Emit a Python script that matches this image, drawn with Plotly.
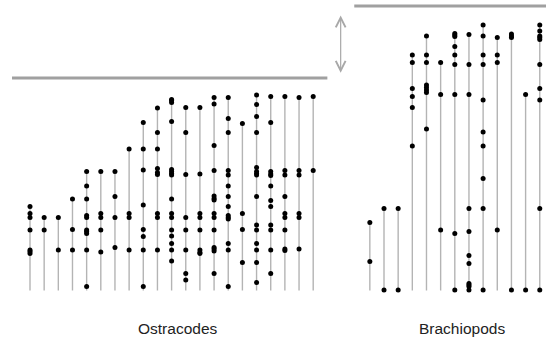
import plotly.graph_objects as go

# stratigraphic levels of occurrences (height above base, arbitrary units)
ostracodes = [
    [84, 77, 73, 60.5, 40.5, 39, 37],
    [73, 60.5],
    [73, 40.5],
    [91.5, 61, 40.5],
    [119, 104.5, 91.5, 75, 73, 60.5, 59, 57, 40.5, 4],
    [119, 77, 73, 60.5, 38.5],
    [119, 94, 73, 43],
    [141.5, 77, 73, 40.5],
    [168, 141.5, 120.5, 85.5, 61, 54, 40.5, 4],
    [182.5, 158, 141.5, 122, 118, 116, 77, 73, 40.5],
    [191, 190, 188, 169, 121, 119, 117, 115.5, 91.5, 77, 73, 60.5, 54.5, 47, 40.5, 29.5],
    [183, 158, 116, 73, 60.5, 40.5, 17, 10.5],
    [183, 116.5, 77, 73, 60.5, 40.5, 38, 37],
    [193, 186.5, 145, 120, 94.5, 92, 90.5, 77, 73, 60.5, 43, 41.5, 39.5, 17],
    [193, 172, 158, 120, 115.5, 104.5, 94, 84, 75, 73, 71.5, 47, 40.5, 4],
    [167, 77, 61, 28],
    [195.5, 186, 174, 158, 123, 119, 117, 115.5, 94, 65.5, 60.5, 47, 40.5, 28, 8],
    [194, 168, 119, 116.5, 115, 104.5, 90, 84, 65.5, 60.5, 40.5, 17],
    [194, 120, 115.5, 94, 77, 73, 60.5, 41.5, 40],
    [193, 120, 115.5, 77, 73, 41.5],
    [194, 120],
]
brachiopods = [
    [68, 29],
    [82, 0.5],
    [82, 0.5],
    [235.5, 228, 202, 194, 183, 144.5],
    [254.5, 235.5, 228, 205.5, 203, 200.5, 198, 161.5],
    [228, 196, 60.5],
    [257, 255.5, 254, 244, 235.5, 226, 196, 57, 0.5],
    [256, 226, 196, 82, 59, 35, 27, 7, 5.5, 4, 0.5],
    [265.5, 254.5, 235.5, 226, 190.5, 158.5, 144.5, 112, 82, 0.5],
    [253, 235.5, 228, 60.5],
    [256.5, 254.5, 253, 0.5],
    [196, 0.5],
    [265.5, 259.5, 254.5, 253, 251, 226, 202, 190.5, 82, 0.5],
]
group_labels = ["Ostracodes", "Brachiopods"]
ostracode_boundary = 212.5
brachiopod_boundary = 284.5

BRACH_OFFSET = 24  # x position of first brachiopod section

fig = go.Figure()

def add_group(sections, x0):
    lx, ly, px, py = [], [], [], []
    for i, levels in enumerate(sections):
        x = x0 + i
        lx += [x, x, None]
        ly += [0, max(levels), None]
        px += [x] * len(levels)
        py += levels
    fig.add_trace(go.Scatter(x=lx, y=ly, mode="lines",
                             line=dict(color="#b4b4b4", width=1.4),
                             hoverinfo="skip", showlegend=False))
    fig.add_trace(go.Scatter(x=px, y=py, mode="markers",
                             marker=dict(color="black", size=5),
                             showlegend=False))

add_group(ostracodes, 0)
add_group(brachiopods, BRACH_OFFSET)

# boundary lines
fig.add_shape(type="line", x0=-1.27, x1=21.0, y0=ostracode_boundary, y1=ostracode_boundary,
              line=dict(color="#a0a0a0", width=3))
fig.add_shape(type="line", x0=22.9, x1=37, y0=brachiopod_boundary, y1=brachiopod_boundary,
              line=dict(color="#a0a0a0", width=3))

# double arrow
fig.add_annotation(x=21.94, y=217.8, ax=21.94, ay=276.5, axref="x", ayref="y",
                   xref="x", yref="y", text="", showarrow=True,
                   arrowside="end+start", arrowhead=5, startarrowhead=5,
                   arrowsize=1.6, startarrowsize=1.6, arrowwidth=1.2,
                   arrowcolor="#a8a8a8")

# labels
for lab, xc in zip(group_labels, [10.47, 30.49]):
    fig.add_annotation(x=xc, y=-37.8, xref="x", yref="y", text=lab, showarrow=False,
                       font=dict(family="Liberation Sans, Arial", size=15.5, color="#222222"),
                       xanchor="center", yanchor="middle")

DX = 14.16
fig.update_layout(
    width=546, height=341, margin=dict(l=0, r=0, t=0, b=0),
    paper_bgcolor="white", plot_bgcolor="white",
    xaxis=dict(range=[-30 / DX, 516 / DX], visible=False, fixedrange=True),
    yaxis=dict(range=[-50.5, 290.5], visible=False, fixedrange=True),
)

fig.write_html("out.html")
